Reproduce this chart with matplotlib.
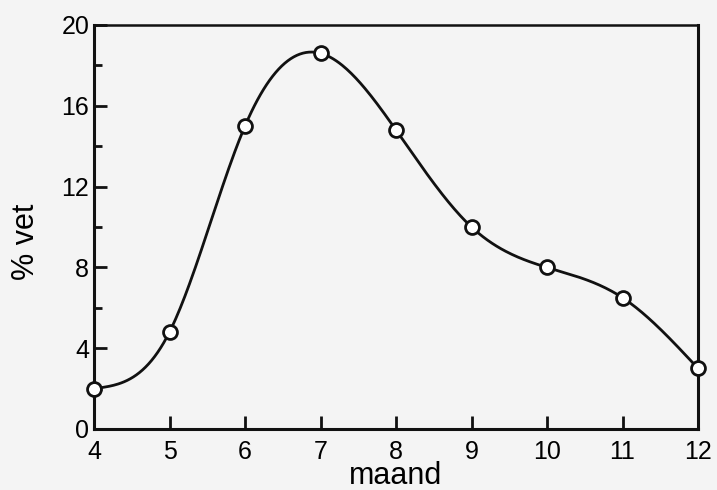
import numpy as np
import matplotlib
matplotlib.use("Agg")
import matplotlib.pyplot as plt

months = [4, 5, 6, 7, 8, 9, 10, 11, 12]
fat_pct = [2.0, 4.8, 15.0, 18.6, 14.8, 10.0, 8.0, 6.5, 3.0]
y_major = [0, 4, 8, 12, 16, 20]
y_minor = [2, 6, 10, 14, 18]
x_ticks = [4, 5, 6, 7, 8, 9, 10, 11, 12]


def natural_spline(x, y, xs):
    x = np.asarray(x, float); y = np.asarray(y, float)
    n = len(x)
    h = np.diff(x)
    A = np.zeros((n, n)); b = np.zeros(n)
    A[0, 0] = 1; A[-1, -1] = 1
    for i in range(1, n - 1):
        A[i, i - 1] = h[i - 1]
        A[i, i] = 2 * (h[i - 1] + h[i])
        A[i, i + 1] = h[i]
        b[i] = 6 * ((y[i + 1] - y[i]) / h[i] - (y[i] - y[i - 1]) / h[i - 1])
    M = np.linalg.solve(A, b)
    idx = np.clip(np.searchsorted(x, xs) - 1, 0, n - 2)
    x0, x1 = x[idx], x[idx + 1]
    hh = x1 - x0
    t0 = x1 - xs; t1 = xs - x0
    return (M[idx] * t0**3 / (6 * hh) + M[idx + 1] * t1**3 / (6 * hh)
            + (y[idx] / hh - M[idx] * hh / 6) * t0
            + (y[idx + 1] / hh - M[idx + 1] * hh / 6) * t1)


plt.rcParams['font.family'] = ['Liberation Sans', 'DejaVu Sans']
bg = '#f4f4f4'
ink = '#111111'
W, H = 717, 490
fig = plt.figure(figsize=(W / 100, H / 100), dpi=100, facecolor=bg)
L, R, T, B = 94, 698, 25, 429
ax = fig.add_axes([L / W, 1 - B / H, (R - L) / W, (B - T) / H])
ax.set_facecolor(bg)

xs = np.linspace(months[0], months[-1], 400)
ax.plot(xs, natural_spline(months, fat_pct, xs), color=ink, lw=2.0, zorder=2)
ax.plot(months, fat_pct, 'o', ms=10, mfc='white', mec=ink, mew=2.0,
        zorder=3, clip_on=False)

ax.set_xlim(4, 12)
ax.set_ylim(0, 20)
ax.set_xticks(x_ticks)
ax.set_yticks(y_major)
ax.set_yticks(y_minor, minor=True)
ax.tick_params(axis='both', which='major', direction='in', length=9.5, width=2,
               labelsize=18, color=ink, pad=3.5)
ax.tick_params(axis='x', which='major', pad=8)
ax.tick_params(axis='y', which='minor', direction='in', length=5.5, width=2,
               color=ink)
for s in ['left', 'right', 'bottom']:
    ax.spines[s].set_linewidth(2.2)
    ax.spines[s].set_color(ink)
ax.spines['top'].set_linewidth(1.8)
ax.spines['top'].set_color(ink)

ax.set_xlabel('maand', fontsize=22)
ax.xaxis.set_label_coords(0.5, -(484 - B) / (B - T))
ax.xaxis.label.set_verticalalignment('baseline')
ax.set_ylabel('% vet', fontsize=22)
ax.yaxis.set_label_coords(-(L - 26) / (R - L), (B - 242) / (B - T))
ax.yaxis.label.set_verticalalignment('center')

fig.savefig('out.png', dpi=100, facecolor=bg)
